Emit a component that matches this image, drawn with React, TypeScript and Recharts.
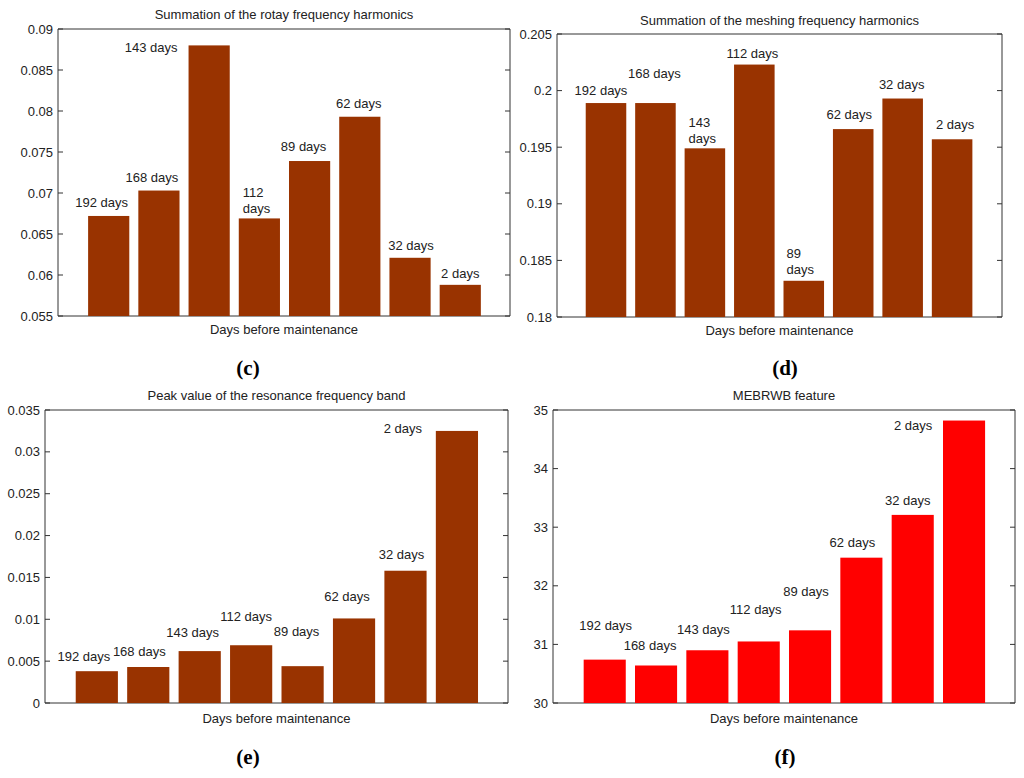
import { Bar, BarChart, ReferenceArea, ReferenceLine, XAxis, YAxis } from "recharts";

// days before maintenance, same order in every panel
const DAYS = ["192 days", "168 days", "143 days", "112 days", "89 days", "62 days", "32 days", "2 days"];

// (c) summation of the rotary frequency harmonics
const ROTARY = [0.0672, 0.0703, 0.088, 0.0669, 0.0739, 0.0793, 0.0621, 0.0588];
const ROTARY_TICKS = [0.055, 0.06, 0.065, 0.07, 0.075, 0.08, 0.085, 0.09];
const ROTARY_LABELS = ["192 days", "168 days", "143 days", "112\ndays", "89 days", "62 days", "32 days", "2 days"];

// (d) summation of the meshing frequency harmonics
const MESHING = [0.1989, 0.1989, 0.1949, 0.2023, 0.1832, 0.1966, 0.1993, 0.1957];
const MESHING_TICKS = [0.18, 0.185, 0.19, 0.195, 0.2, 0.205];
const MESHING_LABELS = ["192 days", "168 days", "143\ndays", "112 days", "89\ndays", "62 days", "32 days", "2 days"];

// (e) peak value of the resonance frequency band
const RESONANCE = [0.0038, 0.0043, 0.0062, 0.0069, 0.0044, 0.0101, 0.0158, 0.0325];
const RESONANCE_TICKS = [0, 0.005, 0.01, 0.015, 0.02, 0.025, 0.03, 0.035];

// (f) MEBRWB feature
const MEBRWB = [30.74, 30.64, 30.9, 31.05, 31.24, 32.48, 33.21, 34.82];
const MEBRWB_TICKS = [30, 31, 32, 33, 34, 35];

// where each "n days" note sits relative to its bar (px)
const OFFSETS_C = [[-7, -14], [-7, -14], [-58, 2], [4, -26], [-6, -15], [-1, -14], [1, -13], [0, -12]];
const OFFSETS_D = [[-5, -13], [-1, -30], [4, -26], [-2, -12], [3, -28], [-4, -15], [-1, -15], [3, -15]];
const OFFSETS_E = [[-13, -15], [-9, -16], [-7, -19], [-5, -29], [-6, -35], [-7, -22], [-4, -17], [-54, -3]];
const OFFSETS_F = [[1, -35], [-6, -20], [-4, -21], [-3, -32], [-4, -39], [-9, -16], [-5, -15], [-51, 4]];

const SANS = "'Liberation Sans', Arial, sans-serif";
const SERIF = "'Liberation Serif', 'Times New Roman', serif";
const INK = "#222";
const AXIS = "#333";

type Box = { left: number; top: number; right: number; bottom: number };

type PanelProps = {
  title: string;
  letter: string;
  values: number[];
  labels: string[];
  offsets: number[][];
  ticks: number[];
  color: string;
  box: Box;
  titleY: number;
  xLabelY: number;
  letterX: number;
  letterY: number;
};

const AXW = 60;
const PAD = 10;
const X_MAX = 9;

function centered(x: number, y: number, style: React.CSSProperties, text: string) {
  return (
    <div
      style={{
        position: "absolute",
        left: x,
        top: y,
        transform: "translate(-50%, -50%)",
        whiteSpace: "nowrap",
        ...style,
      }}
    >
      {text}
    </div>
  );
}

function Panel(props: PanelProps) {
  const { box, values, labels, offsets, ticks, color } = props;
  const plotW = box.right - box.left;
  const plotH = box.bottom - box.top;
  const data = values.map((v, i) => ({ pos: i + 1, value: v, label: labels[i], i }));
  const lo = ticks[0];
  const hi = ticks[ticks.length - 1];
  // inward tick length of 5px, in x units
  const tickLen = (5 * X_MAX) / plotW;

  const shape = (p: any) => {
    const { x, y, width, height, payload } = p;
    const [dx, dy] = offsets[payload.i];
    const lines = String(payload.label).split("\n");
    const multi = lines.length > 1;
    const tx = multi ? x + dx : x + width / 2 + dx;
    return (
      <g>
        <rect x={x} y={y} width={width} height={height} fill={color} />
        <text
          textAnchor={multi ? "start" : "middle"}
          dominantBaseline="central"
          fontSize={13}
          fontFamily={SANS}
          fill={INK}
        >
          {lines.map((line, k) => (
            <tspan key={k} x={tx} y={y + dy + k * 16}>
              {line}
            </tspan>
          ))}
        </text>
      </g>
    );
  };

  const textStyle = { fontFamily: SANS, fontSize: 13, color: INK };
  const midX = (box.left + box.right) / 2;

  return (
    <>
      {centered(midX, props.titleY, textStyle, props.title)}
      <div style={{ position: "absolute", left: box.left - AXW, top: box.top - PAD }}>
        <BarChart
          width={AXW + plotW + PAD}
          height={plotH + 2 * PAD}
          data={data}
          margin={{ top: PAD, right: PAD, bottom: PAD, left: 0 }}
        >
          <XAxis xAxisId="b" dataKey="pos" type="number" domain={[0, X_MAX]} hide />
          <YAxis
            yAxisId="l"
            type="number"
            domain={[lo, hi]}
            ticks={ticks}
            interval={0}
            width={AXW}
            tickLine={false}
            axisLine={false}
            tickSize={0}
            tickMargin={5}
            tick={{ fontSize: 13, fill: INK, fontFamily: SANS }}
          />
          <Bar
            xAxisId="b"
            yAxisId="l"
            dataKey="value"
            barSize={(0.82 * plotW) / X_MAX}
            shape={shape}
            isAnimationActive={false}
          />
          {ticks.map((t) => (
            <ReferenceLine
              key={`l${t}`}
              xAxisId="b"
              yAxisId="l"
              segment={[{ x: 0, y: t }, { x: tickLen, y: t }]}
              stroke={AXIS}
            />
          ))}
          {ticks.map((t) => (
            <ReferenceLine
              key={`r${t}`}
              xAxisId="b"
              yAxisId="l"
              segment={[{ x: X_MAX - tickLen, y: t }, { x: X_MAX, y: t }]}
              stroke={AXIS}
            />
          ))}
          <ReferenceArea
            xAxisId="b"
            yAxisId="l"
            x1={0}
            x2={X_MAX}
            y1={lo}
            y2={hi}
            fill="none"
            fillOpacity={0}
            stroke={AXIS}
            strokeOpacity={1}
          />
        </BarChart>
      </div>
      {centered(midX, props.xLabelY, textStyle, "Days before maintenance")}
      {centered(props.letterX, props.letterY, { fontFamily: SERIF, fontSize: 21, fontWeight: "bold", color: "#000" }, props.letter)}
    </>
  );
}

export default function App() {
  return (
    <div style={{ position: "absolute", left: 0, top: 0, width: 1024, height: 778, background: "#fff" }}>
      <Panel
        title="Summation of the rotay frequency harmonics"
        letter="(c)"
        values={ROTARY}
        labels={ROTARY_LABELS}
        offsets={OFFSETS_C}
        ticks={ROTARY_TICKS}
        color="#993300"
        box={{ left: 58, top: 29, right: 510, bottom: 316 }}
        titleY={13.5}
        xLabelY={329}
        letterX={248}
        letterY={368}
      />
      <Panel
        title="Summation of the meshing frequency harmonics"
        letter="(d)"
        values={MESHING}
        labels={MESHING_LABELS}
        offsets={OFFSETS_D}
        ticks={MESHING_TICKS}
        color="#993300"
        box={{ left: 557, top: 34, right: 1002, bottom: 317 }}
        titleY={20}
        xLabelY={330}
        letterX={785}
        letterY={368}
      />
      <Panel
        title="Peak value of the resonance frequency band"
        letter="(e)"
        values={RESONANCE}
        labels={DAYS}
        offsets={OFFSETS_E}
        ticks={RESONANCE_TICKS}
        color="#993300"
        box={{ left: 45, top: 410, right: 508, bottom: 703 }}
        titleY={395}
        xLabelY={718}
        letterX={248}
        letterY={757}
      />
      <Panel
        title="MEBRWB feature"
        letter="(f)"
        values={MEBRWB}
        labels={DAYS}
        offsets={OFFSETS_F}
        ticks={MEBRWB_TICKS}
        color="#ff0000"
        box={{ left: 553, top: 410, right: 1015, bottom: 703 }}
        titleY={395}
        xLabelY={718}
        letterX={785}
        letterY={757}
      />
    </div>
  );
}
